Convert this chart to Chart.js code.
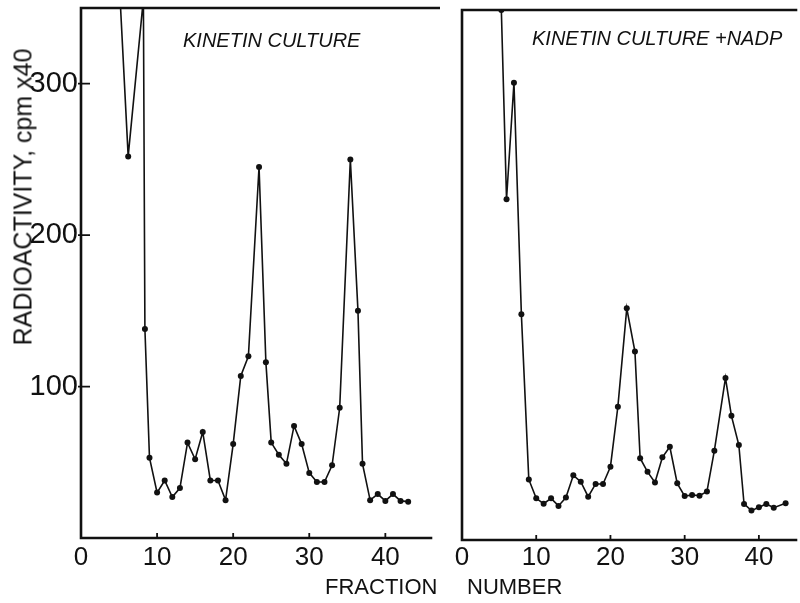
<!DOCTYPE html>
<html><head><meta charset="utf-8">
<script src="https://cdn.jsdelivr.net/npm/chart.js@4/dist/chart.umd.min.js"></script>
<style>
html,body{margin:0;padding:0;background:#fff;}
#wrap{position:relative;width:800px;height:603px;overflow:hidden;font-family:"Liberation Sans",Arial,sans-serif;color:#111;}
canvas{position:absolute;top:0;}
#c1{left:0;}
#c2{left:440px;}
.t{position:absolute;white-space:nowrap;line-height:1;}
</style></head><body>
<div id="wrap">
<canvas id="c1" width="440" height="603"></canvas>
<canvas id="c2" width="360" height="603"></canvas>
<div class="t" id="ylab" style="font-size:25px;left:23px;top:197px;transform:translate(-50%,-50%) rotate(-90deg);">RADIOACTIVITY, cpm x40</div>
<div class="t" style="font-size:22px;left:325px;top:576px;">FRACTION</div>
<div class="t" style="font-size:22px;left:467px;top:576px;">NUMBER</div>
<div class="t" style="font-size:20px;font-style:italic;left:183px;top:30px;">KINETIN CULTURE</div>
<div class="t" style="font-size:20px;font-style:italic;left:532px;top:28px;">KINETIN CULTURE +NADP</div>
</div>
<script>
// ---- data ----
const yTicks = [0, 50, 100, 150, 200, 250, 300, 350];
const xTicks = [0, 10, 20, 30, 40];

// Left panel: kinetin culture
const fracL = [5.1, 6.2, 8.2, 8.4, 9, 10, 11, 12, 13, 14, 15, 16, 17, 18, 19, 20, 21, 22, 23.4, 24.3, 25, 26, 27, 28, 29, 30, 31, 32, 33, 34, 35.4, 36.4, 37, 38, 39, 40, 41, 42, 43];
const cpmL  = [360, 252, 356, 138, 53, 30, 38, 27, 33, 63, 52, 70, 38, 38, 25, 62, 107, 120, 245, 116, 63, 55, 49, 74, 62, 43, 37, 37, 48, 86, 250, 150, 49, 25, 29, 24.5, 29, 24.5, 24];

// Right panel: kinetin culture + NADP
const fracR = [5.3, 6, 7, 8, 9, 10, 11, 12, 13, 14, 15, 16, 17, 18, 19, 20, 21, 22.2, 23.3, 24, 25, 26, 27, 28, 29, 30, 31, 32, 33, 34, 35.5, 36.3, 37.3, 38, 39, 40, 41, 42, 43.6];
const cpmR  = [350, 225, 302, 149, 40, 27.5, 24, 27.5, 22.5, 28, 42.7, 38.5, 28.6, 37, 37, 48.4, 88, 153, 124.4, 54, 45, 38, 54.6, 61.6, 37.4, 29, 29.7, 29.3, 32, 59, 107, 82, 62.7, 23.8, 19.4, 21.6, 23.8, 21.3, 24.2];

const FONT = "'Liberation Sans', Arial, sans-serif";
const INK = '#111';

const framePlugin = {
  id: 'frame',
  afterDraw(chart, args, opts) {
    const {ctx, chartArea: a, scales: {x, y}} = chart;
    ctx.save();
    ctx.strokeStyle = INK;
    ctx.lineCap = 'square';
    ctx.lineWidth = 2.6;
    ctx.beginPath();
    ctx.moveTo(a.left, a.top); ctx.lineTo(a.right + (opts.topExtra || 0), a.top);
    ctx.moveTo(a.left, a.top); ctx.lineTo(a.left, a.bottom); ctx.lineTo(a.right, a.bottom);
    ctx.stroke();
    ctx.lineCap = 'butt';
    ctx.lineWidth = 1.8;
    ctx.beginPath();
    y.ticks.forEach(t => {
      if (t.value > y.min && t.value < y.max) {
        const p = y.getPixelForValue(t.value);
        ctx.moveTo(a.left - (opts.yOut || 0), p); ctx.lineTo(a.left + 9, p);
      }
    });
    x.ticks.forEach(t => {
      if (t.value > x.min && t.value < x.max) {
        const p = x.getPixelForValue(t.value);
        ctx.moveTo(p, a.bottom); ctx.lineTo(p, a.bottom - 5);
      }
    });
    ctx.stroke();
    ctx.restore();
  }
};

function makeChart(id, frac, cpm, o) {
  const pts = frac.map((f, i) => ({x: f, y: cpm[i]}));
  return new Chart(document.getElementById(id), {
    type: 'line',
    data: { datasets: [{
      data: pts,
      borderColor: INK, borderWidth: 1.6,
      pointRadius: 3, pointBackgroundColor: INK, pointBorderWidth: 0,
      tension: 0, fill: false
    }]},
    options: {
      responsive: false, animation: false, devicePixelRatio: 1, events: [],
      layout: { padding: { top: o.top, right: o.right, left: 0, bottom: 0 } },
      plugins: { legend: {display: false}, tooltip: {enabled: false}, title: {display: false},
                 frame: { topExtra: o.topExtra, yOut: o.yOut } },
      scales: {
        x: {
          type: 'linear', min: 0, max: o.xmax,
          grid: {display: false, drawTicks: false}, border: {display: false},
          afterBuildTicks: s => { s.ticks = xTicks.map(v => ({value: v})); },
          ticks: { padding: o.xpad, color: INK, font: {family: FONT, size: 26}, maxRotation: 0, autoSkip: false,
                   callback: v => String(v) },
          afterFit: s => { s.height = o.xh; s.paddingLeft = 0; s.paddingRight = 0; }
        },
        y: {
          type: 'linear', min: 0, max: 350,
          grid: {display: false, drawTicks: false}, border: {display: false},
          afterBuildTicks: s => { s.ticks = yTicks.map(v => ({value: v})); },
          ticks: { padding: 3, color: INK, font: {family: FONT, size: 29}, autoSkip: false,
                   callback: v => (o.ylabels && v % 100 === 0 && v > 0 && v < 350) ? String(v) : null },
          afterFit: s => { s.width = o.yw; s.paddingTop = 0; s.paddingBottom = 0; }
        }
      }
    },
    plugins: [framePlugin]
  });
}

makeChart('c1', fracL, cpmL, {top: 8, right: 9, xmax: 46, xh: 65, yw: 81, xpad: 4, ylabels: true, topExtra: 9, yOut: 3});
makeChart('c2', fracR, cpmR, {top: 10, right: 0, xmax: 45, xh: 63, yw: 22, xpad: 2, ylabels: false, topExtra: 0, yOut: 0});
</script>
</body></html>
